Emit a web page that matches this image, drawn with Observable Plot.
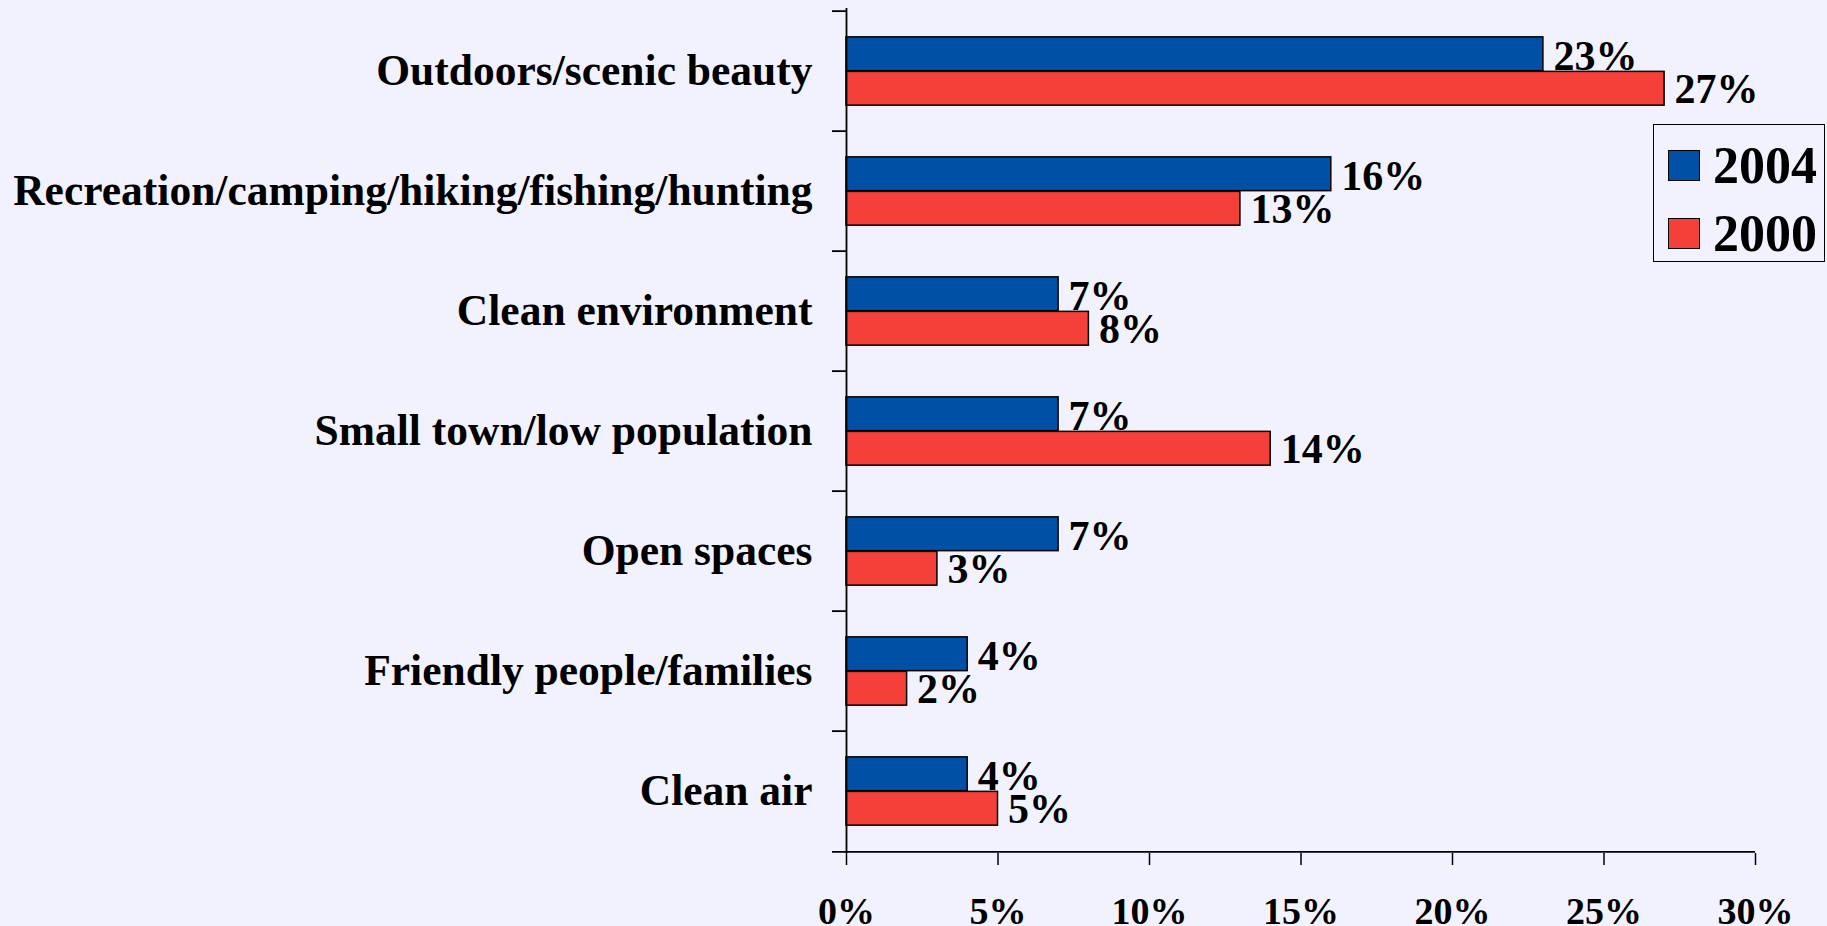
<!DOCTYPE html>
<html>
<head>
<meta charset="utf-8">
<script src="https://cdn.jsdelivr.net/npm/d3@7"></script>
<script src="https://cdn.jsdelivr.net/npm/@observablehq/plot@0.6"></script>
<style>
  html, body { margin: 0; padding: 0; background: #F2F2FE; }
  #wrap { position: relative; width: 1827px; height: 926px; overflow: hidden; background: #F2F2FE; }
  #chart svg { position: absolute; left: 0; top: 0; }
  #legend {
    position: absolute; left: 1653px; top: 124px; width: 170px; height: 136px;
    border: 1.5px solid #000; box-sizing: content-box;
    font-family: "Liberation Serif", "Times New Roman", serif; font-weight: bold; font-size: 52px;
  }
  .row { position: absolute; left: 14px; display: flex; align-items: center; height: 60px; }
  .sw { width: 30px; height: 29px; border: 1.5px solid #000; margin-right: 13px; }
</style>
</head>
<body>
<div id="wrap"><div id="chart"></div><div id="legend"></div></div>
<script>
const categories = [
  "Outdoors/scenic beauty",
  "Recreation/camping/hiking/fishing/hunting",
  "Clean environment",
  "Small town/low population",
  "Open spaces",
  "Friendly people/families",
  "Clean air"
];
const values2004 = [23, 16, 7, 7, 7, 4, 4];
const values2000 = [27, 13, 8, 14, 3, 2, 5];
const years = ["2004", "2000"];
const colors = ["#0050A8", "#F44038"];
const xTicks = [0, 5, 10, 15, 20, 25, 30];

const W = 1827, H = 926;
const marginLeft = 846, marginRight = 72, marginTop = 8, marginBottom = 73;
const bw = (H - marginTop - marginBottom) / categories.length;
const barH = 34.5, gapTop = (bw - 2 * barH) / 2;

const d2004 = categories.map((c, i) => ({category: c, value: values2004[i], year: years[0]}));
const d2000 = categories.map((c, i) => ({category: c, value: values2000[i], year: years[1]}));

const font = "'Liberation Serif', 'Times New Roman', serif";

const plot = Plot.plot({
  width: W, height: H,
  marginLeft, marginRight, marginTop, marginBottom,
  style: {background: "transparent", fontFamily: font, fontWeight: "bold", color: "#000"},
  x: {domain: [xTicks[0], xTicks[xTicks.length - 1]]},
  y: {domain: categories, padding: 0},
  color: {domain: years, range: colors},
  marks: [
    Plot.barX(d2004, {x: "value", y: "category", fill: "year", stroke: "#000", strokeWidth: 1.5,
      insetTop: gapTop, insetBottom: bw - gapTop - barH}),
    Plot.barX(d2000, {x: "value", y: "category", fill: "year", stroke: "#000", strokeWidth: 1.5,
      insetTop: gapTop + barH, insetBottom: gapTop}),
    Plot.ruleX([xTicks[0]], {stroke: "#000", strokeWidth: 1.8}),
    Plot.ruleY(categories, {y: d => d, x1: xTicks[0], x2: xTicks[0], insetLeft: -14, dy: -bw / 2, stroke: "#000", strokeWidth: 1.8}),
    Plot.ruleY([categories[categories.length - 1]], {y: d => d, x1: xTicks[0], x2: xTicks[xTicks.length - 1], insetLeft: -14, dy: bw / 2, stroke: "#000", strokeWidth: 1.8}),
    Plot.axisY({tickSize: 0, tickPadding: 34, fontSize: 43.5, fontWeight: "bold", fontFamily: font, label: null}),
    Plot.axisX({ticks: xTicks, tickSize: 12, tickPadding: 32, tickFormat: d => d + "%", fontSize: 38, fontWeight: "bold", fontFamily: font, label: null, strokeWidth: 1.5}),
    Plot.text(d2004, {x: "value", y: "category", text: d => d.value + "%", dx: 10, dy: -15, textAnchor: "start", fontSize: 42, fontWeight: "bold", fontFamily: font, fill: "#000"}),
    Plot.text(d2000, {x: "value", y: "category", text: d => d.value + "%", dx: 10, dy: 18, textAnchor: "start", fontSize: 42, fontWeight: "bold", fontFamily: font, fill: "#000"})
  ]
});
document.getElementById("chart").appendChild(plot);

const legend = document.getElementById("legend");
years.forEach((y, i) => {
  const row = document.createElement("div");
  row.className = "row";
  row.style.top = (10 + i * 68) + "px";
  const sw = document.createElement("div");
  sw.className = "sw";
  sw.style.background = colors[i];
  const t = document.createElement("span");
  t.textContent = y;
  row.appendChild(sw);
  row.appendChild(t);
  legend.appendChild(row);
});
</script>
</body>
</html>
